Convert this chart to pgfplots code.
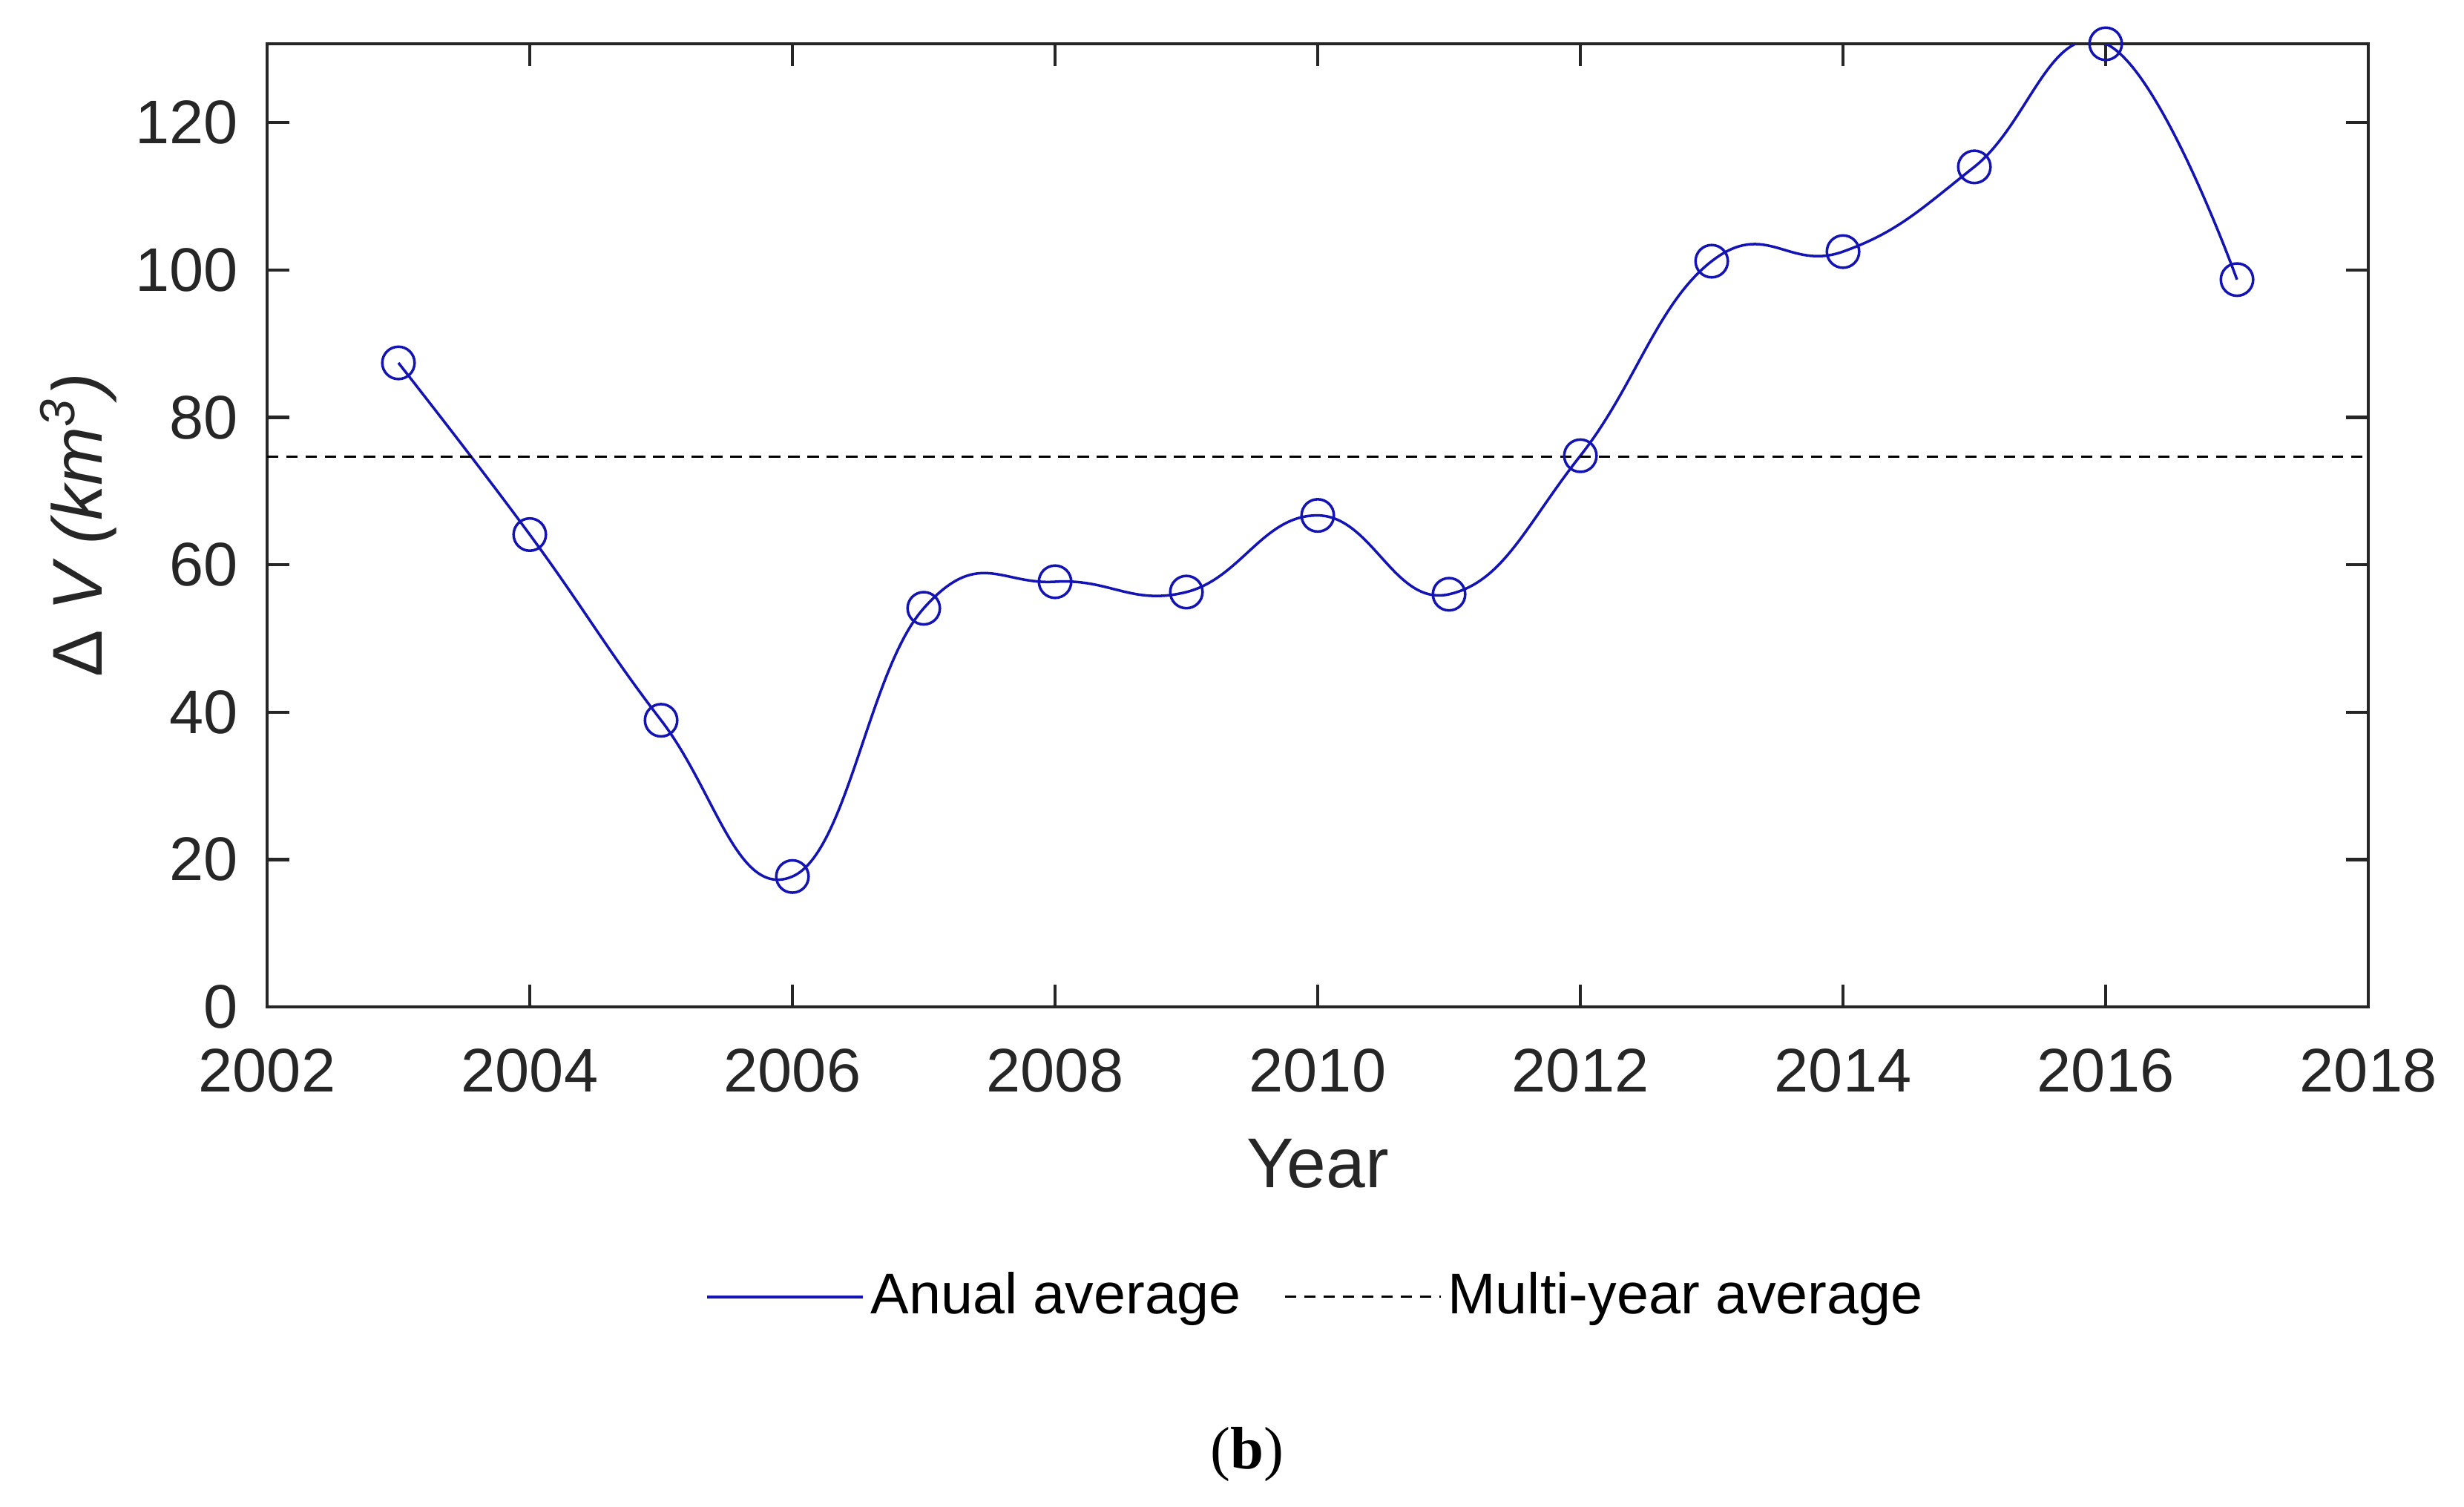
\documentclass[border=0pt]{standalone}
\usepackage{fontspec}
\setmainfont{Liberation Sans}
\newfontfamily\serifcap{Liberation Serif}
\usepackage{pgfplots}
\pgfplotsset{compat=1.18}
\definecolor{lineblue}{RGB}{20,20,180}
\definecolor{axgray}{RGB}{38,38,38}

\pgfplotstableread{
year dv
2003 87.4
2004 64.1
2005 38.9
2006 17.7
2007 54.1
2008 57.7
2009 56.3
2010 66.7
2011 56.0
2012 74.8
2013 101.2
2014 102.5
2015 114.0
2016 130.7
2017 98.7
}\annual

\begin{document}
\begin{tikzpicture}
\useasboundingbox (-1.8,-3.365) rectangle (14.805,6.785);
\begin{axis}[
    at={(0,0)}, anchor=south west,
    scale only axis,
    width=14.16cm, height=6.49cm,
    xmin=2002, xmax=2018,
    ymin=0, ymax=130.7,
    xtick={2002,2004,...,2018},
    ytick={0,20,...,120},
    tick align=inside,
    major tick length=4.3pt,
    axis line style={axgray, line width=0.6pt},
    tick style={axgray, line width=0.6pt},
    /pgf/number format/assume math mode=true,
    /pgf/number format/1000 sep={},
    tick label style={font=\fontsize{11.8}{14}\selectfont, text=axgray},
    xticklabel style={yshift=-4.5pt},
    yticklabel style={xshift=-2pt},
    every axis x label/.style={at={(axis description cs:0.5,0)}, anchor=base, yshift=-34.6pt},
    every axis y label/.style={at={(axis description cs:0,0.5)}, anchor=base, rotate=90, yshift=31.7pt},
    label style={font=\fontsize{13.5}{16}\selectfont, text=axgray},
    xlabel={Year},
    ylabel={Δ \textit{V (km\textsuperscript{3})}},
    legend style={at={(axis description cs:0.5,0)}, anchor=center, yshift=-55.6pt,
        draw=none, fill=none, font=\fontsize{11}{13}\selectfont,
        /tikz/every even column/.append style={column sep=7pt},
        nodes={inner sep=1.2pt}},
    legend columns=2,
    legend image code/.code={\draw[#1] (0cm,0cm) -- (1.05cm,0cm);},
]
\addplot[lineblue, line width=0.5pt, smooth, tension=0.75, no markers] table[x=year, y=dv] {\annual};
\addlegendentry{Anual average}
\addplot[black, line width=0.45pt, dash pattern=on 2.2pt off 1.5pt, no markers] coordinates {(2002,74.7) (2018,74.7)};
\addlegendentry{Multi-year average}
\addplot[lineblue, line width=0.5pt, only marks, mark=o, mark size=3.1pt, forget plot] table[x=year, y=dv] {\annual};
\end{axis}
\node[font=\serifcap\fontsize{11.5}{14}\selectfont] at (6.605,-3.015) {(\textbf{b})};
\end{tikzpicture}
\end{document}
